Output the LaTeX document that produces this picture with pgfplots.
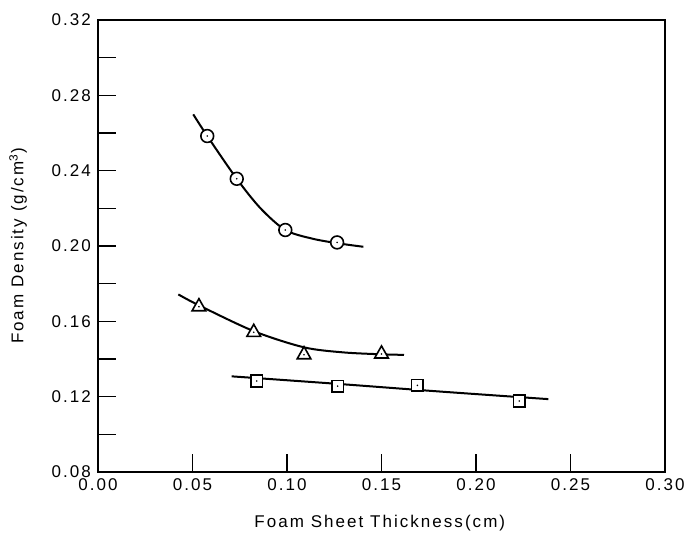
\documentclass[border=0pt]{standalone}
\usepackage{fontspec}
\setmainfont{Liberation Sans}[LetterSpace=12]
\usepackage{pgfplots}
\pgfplotsset{compat=1.18}

% open marks with a small dot in the middle
\pgfdeclareplotmark{circdot}{%
  \pgfpathcircle{\pgfpointorigin}{\pgfplotmarksize}%
  \pgfusepathqfillstroke
  \begin{pgfscope}%
  \pgfsetfillcolor{black}%
  \pgfpathcircle{\pgfpointorigin}{0.45pt}%
  \pgfusepathqfill
  \end{pgfscope}}
\pgfdeclareplotmark{tridot}{%
  \pgfpathmoveto{\pgfpoint{0pt}{1.2\pgfplotmarksize}}%
  \pgfpathlineto{\pgfpoint{-1.1\pgfplotmarksize}{-0.75\pgfplotmarksize}}%
  \pgfpathlineto{\pgfpoint{1.1\pgfplotmarksize}{-0.75\pgfplotmarksize}}%
  \pgfpathclose
  \pgfusepathqfillstroke
  \begin{pgfscope}%
  \pgfsetfillcolor{black}%
  \pgfpathcircle{\pgfpoint{0pt}{-0.1\pgfplotmarksize}}{0.45pt}%
  \pgfusepathqfill
  \end{pgfscope}}
\pgfdeclareplotmark{sqdot}{%
  \begin{pgfscope}%
  \pgfsetcornersarced{\pgfpoint{0.9pt}{0.9pt}}%
  \pgfpathrectangle{\pgfpoint{-\pgfplotmarksize}{-\pgfplotmarksize}}%
    {\pgfpoint{2\pgfplotmarksize}{2\pgfplotmarksize}}%
  \pgfusepathqfillstroke
  \end{pgfscope}%
  \begin{pgfscope}%
  \pgfsetfillcolor{black}%
  \pgfpathcircle{\pgfpointorigin}{0.45pt}%
  \pgfusepathqfill
  \end{pgfscope}}

\begin{document}
\begin{tikzpicture}
\begin{axis}[
  name=ax,
  scale only axis,
  width=283.5pt, height=226pt,
  xmin=0, xmax=0.30, ymin=0.08, ymax=0.32,
  xtick={0,0.05,...,0.30},
  ytick={0.08,0.12,...,0.32},
  minor y tick num=1,
  tick align=inside,
  xtick pos=bottom, ytick pos=left,
  major tick length=9pt, minor tick length=9pt,
  tick style={line width=0.7pt, black},
  axis line style={line width=0.7pt},
  font=\fontsize{8.5}{10}\selectfont,
  /pgf/number format/assume math mode=true,
  xticklabel style={/pgf/number format/.cd, fixed, fixed zerofill, precision=2},
  yticklabel style={/pgf/number format/.cd, fixed, fixed zerofill, precision=2},
  scaled ticks=false,
  xlabel={Foam Sheet Thickness(cm)},
  ylabel={Foam Density (g/cm\textsuperscript{3})},
  xlabel style={at={(axis description cs:0.497,-0.113)}, anchor=center},
  ylabel style={at={(axis description cs:-0.141,0.5)}, anchor=center},
  clip=false,
]
% fitted curves
\addplot[black, line width=1pt, smooth, no marks] coordinates {
  (0.0504,0.2699) (0.0578,0.2584) (0.0734,0.2357) (0.0860,0.2200)
  (0.0991,0.2085) (0.1130,0.2040) (0.1265,0.2015) (0.1404,0.1996)
};
\addplot[black, line width=1pt, smooth, no marks] coordinates {
  (0.0425,0.1743) (0.0534,0.1685) (0.0824,0.1548) (0.1090,0.1462)
  (0.1300,0.1435) (0.1500,0.1425) (0.1619,0.1422)
};
\addplot[black, line width=1pt, smooth, no marks] coordinates {
  (0.0707,0.1308) (0.1268,0.1268) (0.1800,0.1228) (0.2383,0.1187)
};
% measured points
\addplot[only marks, mark=circdot, mark size=3.2pt,
  mark options={fill=white, draw=black, line width=0.8pt}] coordinates {
  (0.0578,0.2584) (0.0734,0.2357) (0.0991,0.2085) (0.1265,0.2019)
};
\addplot[only marks, mark=tridot, mark size=3.1pt,
  mark options={fill=white, draw=black, line width=0.8pt}] coordinates {
  (0.0534,0.1681) (0.0824,0.1545) (0.1090,0.1426) (0.1500,0.1430)
};
\addplot[only marks, mark=sqdot, mark size=2.9pt,
  mark options={fill=white, draw=black, line width=0.8pt}] coordinates {
  (0.0840,0.1283) (0.1268,0.1256) (0.1690,0.1260) (0.2229,0.1177)
};
\end{axis}
\path ([shift={(-49pt,-30pt)}]ax.south west) rectangle ([shift={(13.5pt,10pt)}]ax.north east);
\end{tikzpicture}
\end{document}
